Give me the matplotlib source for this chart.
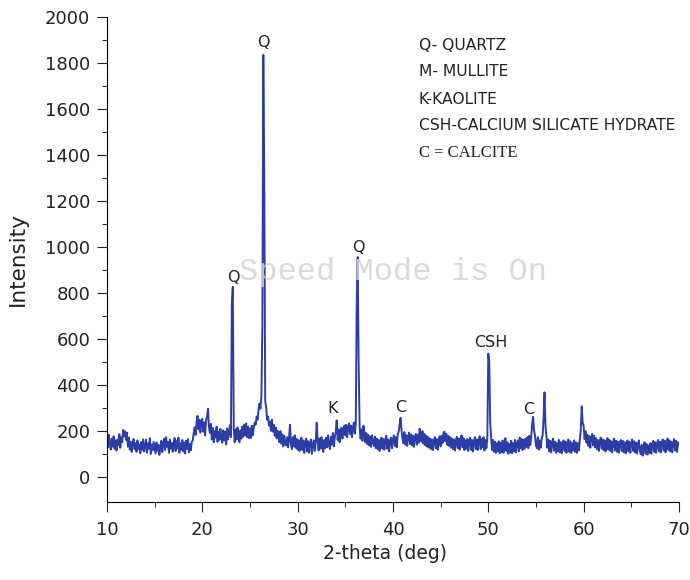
import numpy as np
import matplotlib
matplotlib.use("Agg")
import matplotlib.pyplot as plt
from matplotlib.ticker import MultipleLocator, FixedLocator

# XRD scan, 2-theta from 10 to 70 deg, 0.1 deg step (one row per degree)
two_theta = np.linspace(10.0, 70.0, 601)
intensity = [
    170, 128, 182, 140, 118, 165, 131, 176, 122, 158,   # 10
    114, 162, 138, 185, 126, 171, 150, 204, 176, 198,   # 11
    160, 192, 131, 170, 118, 152, 108, 147, 164, 120,   # 12
    146, 108, 158, 121, 140, 102, 151, 117, 162, 110,   # 13
    133, 161, 105, 145, 122, 168, 99, 140, 115, 152,    # 14
    126, 101, 149, 113, 138, 95, 131, 156, 107, 142,    # 15
    165, 116, 172, 130, 151, 104, 161, 122, 148, 109,   # 16
    141, 168, 112, 155, 124, 170, 104, 146, 118, 160,   # 17
    110, 149, 101, 157, 122, 164, 106, 142, 115, 153,   # 18
    158, 190, 214, 182, 236, 265, 206, 248, 192, 240,   # 19
    252, 196, 236, 180, 245, 262, 296, 214, 190, 230,   # 20
    162, 212, 150, 198, 170, 218, 152, 196, 160, 208,   # 21
    166, 148, 202, 158, 196, 140, 210, 162, 192, 224,   # 22
    172, 748, 826, 212, 150, 206, 162, 214, 170, 150,   # 23
    202, 166, 218, 174, 226, 180, 232, 172, 218, 168,   # 24
    210, 168, 222, 180, 214, 236, 226, 262, 248, 290,   # 25
    318, 296, 352, 650, 1835, 1310, 330, 300, 248, 262,  # 26
    222, 240, 200, 248, 196, 226, 178, 214, 166, 200,   # 27
    192, 150, 198, 144, 184, 132, 178, 150, 136, 172,   # 28
    128, 168, 226, 140, 120, 172, 132, 180, 126, 164,   # 29
    118, 160, 112, 152, 170, 116, 158, 104, 148, 166,   # 30
    110, 154, 104, 146, 162, 100, 142, 158, 112, 150,   # 31
    235, 158, 114, 166, 122, 172, 130, 108, 160, 124,   # 32
    170, 128, 180, 138, 120, 174, 140, 190, 132, 172,   # 33
    196, 245, 160, 206, 150, 198, 214, 166, 206, 222,   # 34
    180, 226, 172, 214, 232, 186, 222, 172, 214, 236,   # 35
    188, 228, 760, 955, 500, 222, 166, 206, 156, 222,   # 36
    196, 150, 190, 142, 182, 136, 176, 130, 180, 150,   # 37
    134, 174, 124, 166, 120, 160, 112, 156, 170, 122,   # 38
    164, 118, 158, 178, 122, 162, 110, 154, 170, 124,   # 39
    162, 180, 134, 172, 128, 184, 196, 228, 256, 200,   # 40
    164, 146, 194, 140, 180, 134, 176, 192, 142, 184,   # 41
    136, 178, 130, 172, 186, 140, 182, 148, 209, 176,   # 42
    152, 198, 144, 186, 136, 178, 130, 172, 126, 166,   # 43
    120, 162, 116, 158, 172, 124, 164, 118, 160, 176,   # 44
    132, 178, 146, 190, 196, 154, 186, 138, 178, 134,   # 45
    172, 126, 166, 120, 162, 114, 156, 174, 124, 166,   # 46
    118, 160, 180, 128, 168, 116, 158, 122, 164, 112,   # 47
    154, 170, 116, 160, 110, 154, 172, 120, 162, 116,   # 48
    158, 176, 120, 164, 128, 172, 114, 160, 124, 168,   # 49
    535, 500, 240, 166, 116, 160, 108, 152, 104, 146,   # 50
    110, 154, 102, 148, 106, 158, 104, 145, 168, 112,   # 51
    150, 100, 142, 106, 156, 102, 146, 110, 160, 106,   # 52
    144, 158, 110, 170, 124, 164, 116, 160, 122, 166,   # 53
    130, 172, 124, 178, 138, 170, 230, 260, 200, 180,   # 54
    136, 124, 172, 118, 158, 126, 166, 180, 256, 367,   # 55
    220, 176, 126, 162, 110, 156, 106, 148, 166, 114,   # 56
    152, 104, 146, 110, 160, 106, 150, 102, 144, 158,   # 57
    112, 152, 104, 148, 162, 108, 154, 104, 146, 114,   # 58
    158, 108, 150, 104, 146, 114, 160, 200, 306, 235,   # 59
    222, 164, 198, 148, 182, 134, 176, 126, 168, 186,   # 60
    136, 178, 128, 168, 120, 160, 112, 156, 170, 122,   # 61
    162, 116, 158, 110, 150, 168, 118, 160, 112, 154,   # 62
    106, 148, 166, 114, 156, 108, 152, 104, 146, 160,   # 63
    112, 156, 106, 150, 102, 144, 158, 110, 152, 104,   # 64
    148, 162, 112, 154, 106, 148, 100, 144, 158, 110,   # 65
    98, 138, 92, 134, 150, 100, 142, 96, 136, 104,      # 66
    146, 100, 142, 156, 108, 150, 104, 144, 160, 110,   # 67
    152, 106, 148, 162, 114, 156, 106, 150, 166, 116,   # 68
    158, 110, 152, 106, 148, 164, 114, 156, 108, 150,   # 69
    140,                                                # 70
]

# peak labels: text, 2-theta, intensity
peak_labels = ["Q", "Q", "Q", "K", "C", "CSH", "C"]
peak_x = [23.3, 26.4, 36.4, 33.7, 40.8, 50.3, 54.2]
peak_y = [865, 1890, 995, 295, 300, 583, 291]

phases = ["Q- QUARTZ", "M- MULLITE", "K-KAOLITE", "CSH-CALCIUM SILICATE HYDRATE"]
calcite = "C = CALCITE"

fig = plt.figure(figsize=(6.9, 5.8), dpi=100)
ax = fig.add_axes([0.155, 0.1345, 0.829, 0.8362])

ax.plot(two_theta, intensity, color="#2B3DA6", lw=1.4)

ax.set_xlim(10, 70)
ax.set_ylim(-110, 2000)
ax.xaxis.set_major_locator(MultipleLocator(10))
ax.xaxis.set_minor_locator(MultipleLocator(5))
ax.yaxis.set_major_locator(MultipleLocator(200))
ax.yaxis.set_minor_locator(FixedLocator(np.arange(100, 2000, 200)))
ax.spines["top"].set_visible(False)
ax.spines["right"].set_visible(False)
ax.tick_params(which="major", direction="out", length=7, labelsize=13, colors="#222222")
ax.tick_params(which="minor", direction="out", length=3.5)
ax.tick_params(axis="y", pad=5)
ax.tick_params(axis="x", pad=7)
ax.set_xlabel("2-theta (deg)", fontsize=13.5, color="#222222")
ax.set_ylabel("Intensity", fontsize=15.5, color="#222222")
ax.xaxis.set_label_coords(0.486, -0.087)
ax.yaxis.set_label_coords(-0.138, 0.5)

for t, x, y in zip(peak_labels, peak_x, peak_y):
    ax.text(x, y, t, ha="center", va="center", fontsize=11.5, color="#222222")

leg_y = [1878, 1761, 1643, 1526]
for t, y in zip(phases, leg_y):
    ax.text(42.7, y, t, ha="left", va="center", fontsize=11.2, color="#222222")
ax.text(42.7, 1409, calcite, ha="left", va="center", fontsize=12, color="#222222",
        family="Liberation Serif")

# overlay text visible in the screenshot
ax.text(40.0, 890, "Speed Mode is On", ha="center", va="center", fontsize=23,
        color="#d4d4d4", alpha=0.85, family="Liberation Mono")

fig.savefig("out.png", dpi=100)
